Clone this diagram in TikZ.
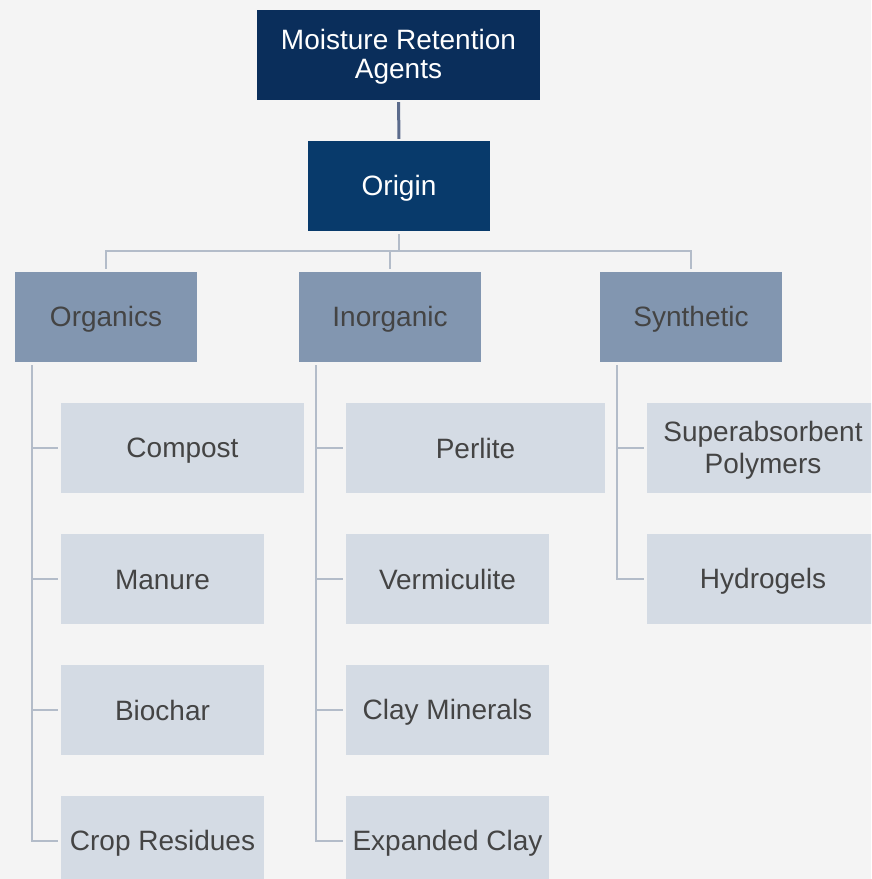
\documentclass[tikz,border=0pt]{standalone}
\usepackage{fontspec}
\setmainfont{Liberation Sans}
\definecolor{bg}{HTML}{F4F4F4}
\definecolor{topc}{HTML}{0A2E5B}
\definecolor{originc}{HTML}{083A6B}
\definecolor{midc}{HTML}{8296B0}
\definecolor{leafc}{HTML}{D4DBE4}
\definecolor{darkline}{HTML}{5B6B8C}
\definecolor{liteline}{HTML}{B3BCC9}
\definecolor{txt}{HTML}{444444}
\newcommand{\mystrut}{\rule[-4.5pt]{0pt}{29pt}}
\begin{document}
\begin{tikzpicture}[x=1pt,y=-1pt,
  box/.style={rectangle, inner sep=0pt, align=center, minimum height=90pt, font=\fontsize{28}{29}\selectfont},
  topbox/.style={box, fill=topc, text=white},
  originbox/.style={box, fill=originc, text=white},
  midbox/.style={box, fill=midc, text=txt, minimum width=182pt},
  leafbox/.style={box, fill=leafc, text=txt},
  dline/.style={draw=darkline, line width=3pt},
  lline/.style={draw=liteline, line width=2.6pt},
]
\useasboundingbox (0,0) rectangle (871,879);
\fill[bg] (0,0) rectangle (871,879);
\begin{scope}
\clip (0,0) rectangle (871,879);
\node[topbox, minimum width=283pt] (top) at (398.5,55) {\mystrut Moisture Retention\\\mystrut Agents};
\node[originbox, minimum width=182pt] (origin) at (399,186) {\mystrut Origin};
\node[midbox] (organics) at (106,317) {\mystrut Organics};
\node[midbox] (inorganic) at (390,317) {\mystrut Inorganic};
\node[midbox] (synthetic) at (691,317) {\mystrut Synthetic};

\node[leafbox, minimum width=243pt] (compost) at (182.5,448) {\mystrut Compost};
\node[leafbox, minimum width=203pt] (manure) at (162.5,579) {\mystrut Manure};
\node[leafbox, minimum width=203pt] (biochar) at (162.5,710) {\mystrut Biochar};
\node[leafbox, minimum width=203pt] (crop) at (162.5,841) {\mystrut Crop Residues};

\node[leafbox, minimum width=259pt] (perlite) at (475.5,448) {\mystrut Perlite};
\node[leafbox, minimum width=203pt] (vermiculite) at (447.5,579) {\mystrut Vermiculite};
\node[leafbox, minimum width=203pt] (clay) at (447.5,710) {\mystrut Clay Minerals};
\node[leafbox, minimum width=203pt] (expanded) at (447.5,841) {\mystrut Expanded Clay};

\node[leafbox, minimum width=232pt] (sap) at (763,448) {\mystrut Superabsorbent\\\mystrut Polymers};
\node[leafbox, minimum width=232pt] (hydro) at (763,579) {\mystrut Hydrogels};

\coordinate (bar) at (0,251);
\draw[dline, shorten <=2pt, shorten >=2pt] (top.south) -- (origin.north);
\draw[lline, shorten <=3pt] (origin.south) -- (origin.south |- bar);
\draw[lline, shorten <=3pt, shorten >=3pt] (organics.north) |- (bar -| synthetic.north) -- (synthetic.north);
\draw[lline, shorten >=3pt] (inorganic.north |- bar) -- (inorganic.north);

\coordinate (orgtop) at (32,365);
\coordinate (inotop) at (316,365);
\coordinate (syntop) at (617,365);
\draw[lline, shorten >=3pt] (orgtop) |- (crop.west);
\draw[lline, shorten >=3pt] (orgtop |- compost.west) -- (compost.west);
\draw[lline, shorten >=3pt] (orgtop |- manure.west) -- (manure.west);
\draw[lline, shorten >=3pt] (orgtop |- biochar.west) -- (biochar.west);

\draw[lline, shorten >=3pt] (inotop) |- (expanded.west);
\draw[lline, shorten >=3pt] (inotop |- perlite.west) -- (perlite.west);
\draw[lline, shorten >=3pt] (inotop |- vermiculite.west) -- (vermiculite.west);
\draw[lline, shorten >=3pt] (inotop |- clay.west) -- (clay.west);

\draw[lline, shorten >=3pt] (syntop) |- (hydro.west);
\draw[lline, shorten >=3pt] (syntop |- sap.west) -- (sap.west);
\end{scope}
\end{tikzpicture}
\end{document}
